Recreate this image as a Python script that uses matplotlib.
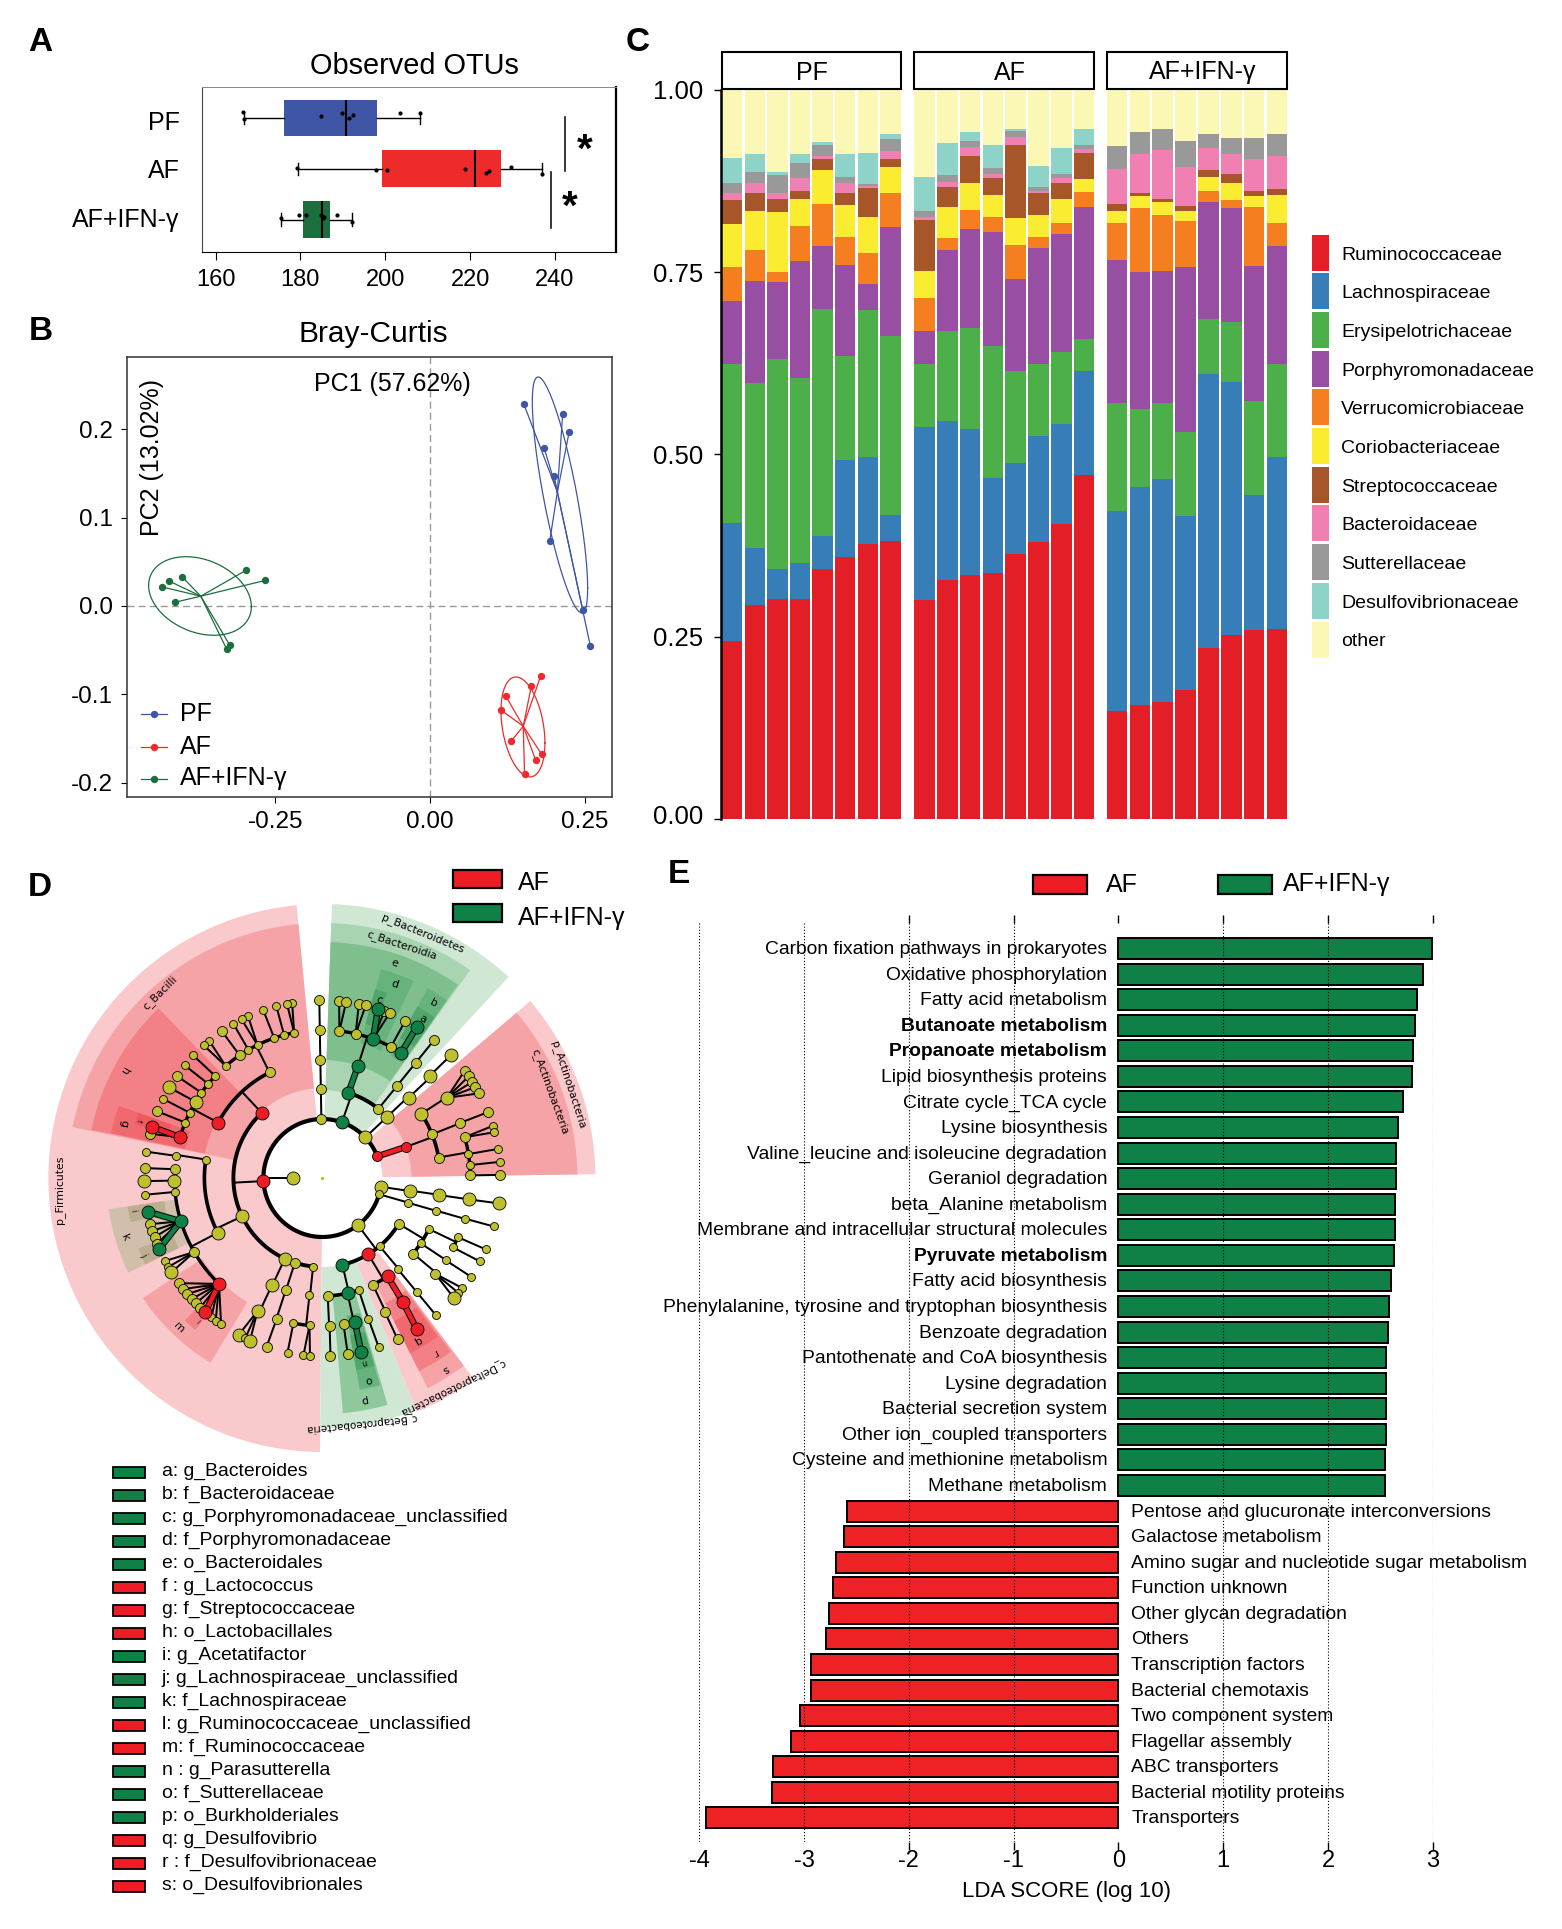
import numpy as np
import matplotlib
matplotlib.use('Agg')
import matplotlib.pyplot as plt
from matplotlib.patches import Wedge, Rectangle
from matplotlib.transforms import ScaledTranslation

plt.rcParams['font.family'] = ['Liberation Sans', 'DejaVu Sans']
plt.rcParams['axes.unicode_minus'] = False
W, H = 1562, 1929
PT = 72 / 100  # points per pixel at 100 dpi

# ---------- Panel A data ----------
otu_groups = ['PF', 'AF', 'AF+IFN-γ']
otu_whislo = [166.6, 179.5, 175.5]
otu_q1 = [176.1, 199.3, 180.5]
otu_med = [190.7, 221.2, 185.0]
otu_q3 = [198.0, 227.3, 187.0]
otu_whishi = [208.3, 237.0, 192.1]
otu_pts_pf = [166.4, 184.9, 189.8, 191.5, 192.5, 203.4, 208.3, 166.7]
otu_off_pf = [-.11, -.04, -.09, 0, -.05, -.10, -.10, .03]
otu_pts_af = [179.3, 197.9, 200.3, 218.7, 223.7, 224.5, 229.7, 237.0]
otu_off_af = [-.02, .03, .03, .01, .09, .05, -.04, .10]
otu_pts_ifn = [175.5, 179.7, 181.4, 184.9, 185.5, 185.4, 188.6, 192.1]
otu_off_ifn = [-.02, -.09, -.08, -.08, -.05, -.03, -.09, .05]
group_colors = ['#3F55A5', '#EE2A2B', '#1C6E3D']

# ---------- Panel B data ----------
pc_pf_x = [.1514, .2143, .2248, .1845, .2007, .1935, .2467, .2591]
pc_pf_y = [.229, .2174, .197, .1787, .1468, .0737, -.0043, -.0454]
pc_af_x = [.1786, .1637, .1222, .1144, .1306, .1806, .1708, .1527]
pc_af_y = [-.0797, -.0908, -.1018, -.1178, -.1534, -.1682, -.1749, -.1903]
pc_ifn_x = [-.2970, -.2665, -.4008, -.4216, -.4326, -.4112, -.3236, -.3287]
pc_ifn_y = [.0405, .0289, .0332, .0283, .0215, .0043, -.0442, -.0485]
pc_centres = [(.2058, .129), (.1507, -.1362), (-.3703, .0111)]
# ellipse: centre x, centre y, half-extent x, half-extent y, correlation
pc_ellipses = [(.21, .1257, .0447, .1336, -.79),
               (.1502, -.137, .0355, .0566, -.32),
               (-.3716, .0113, .083, .0445, -.27)]

# ---------- Panel C data (cumulative stacked proportion, 24 samples) ----------
families = ['Ruminococcaceae', 'Lachnospiraceae', 'Erysipelotrichaceae', 'Porphyromonadaceae',
            'Verrucomicrobiaceae', 'Coriobacteriaceae', 'Streptococcaceae', 'Bacteroidaceae',
            'Sutterellaceae', 'Desulfovibrionaceae', 'other']
family_colors = ['#E41E26', '#377EB8', '#4DAF4A', '#984EA3', '#F57F20', '#F9EC31',
                 '#A65628', '#F07FB2', '#999999', '#8DD3C7', '#FBF7B5']
cum_rumino = [.244, .293, .302, .302, .343, .359, .377, .381,
              .300, .328, .335, .338, .364, .380, .405, .472,
              .148, .157, .161, .177, .234, .252, .259, .260]
cum_lachno = [.406, .372, .343, .351, .388, .492, .497, .417,
              .538, .546, .535, .468, .489, .525, .542, .615,
              .422, .456, .467, .415, .610, .599, .444, .497]
cum_erysi = [.624, .598, .631, .605, .700, .635, .698, .662,
             .624, .669, .674, .649, .615, .624, .641, .658,
             .571, .562, .571, .531, .686, .682, .573, .624]
cum_porphy = [.711, .738, .737, .765, .786, .760, .734, .812,
              .670, .780, .809, .805, .741, .783, .802, .840,
              .767, .750, .752, .757, .846, .838, .759, .786]
cum_verruco = [.757, .780, .751, .814, .843, .799, .777, .859,
               .714, .797, .836, .826, .787, .798, .818, .860,
               .818, .838, .828, .820, .862, .849, .840, .818]
cum_corio = [.816, .834, .832, .850, .890, .842, .826, .895,
             .752, .840, .872, .856, .825, .829, .850, .878,
             .834, .854, .846, .834, .881, .872, .854, .856]
cum_strep = [.849, .859, .851, .861, .905, .859, .865, .905,
             .822, .867, .909, .879, .924, .859, .873, .913,
             .843, .859, .851, .841, .890, .885, .861, .864]
cum_bact = [.859, .872, .859, .879, .909, .872, .868, .917,
            .826, .874, .922, .885, .936, .861, .879, .919,
            .892, .912, .918, .894, .921, .912, .905, .910]
cum_sutter = [.872, .887, .884, .900, .924, .880, .871, .933,
              .834, .883, .930, .893, .944, .867, .885, .924,
              .923, .942, .947, .930, .939, .934, .934, .939]
cum_desulfo = [.907, .912, .888, .912, .929, .912, .914, .940,
               .880, .927, .942, .924, .947, .896, .920, .947,
               .923, .942, .947, .930, .939, .934, .934, .939]
cum_other = [1.0] * 24
facet_names = ['PF', 'AF', 'AF+IFN-γ']

# ---------- Panel E data ----------
lda_up_names = ['Carbon fixation pathways in prokaryotes', 'Oxidative phosphorylation', 'Fatty acid metabolism',
                'Butanoate metabolism', 'Propanoate metabolism', 'Lipid biosynthesis proteins',
                'Citrate cycle_TCA cycle', 'Lysine biosynthesis', 'Valine_leucine and isoleucine degradation',
                'Geraniol degradation', 'beta_Alanine metabolism', 'Membrane and intracellular structural molecules',
                'Pyruvate metabolism', 'Fatty acid biosynthesis', 'Phenylalanine, tyrosine and tryptophan biosynthesis',
                'Benzoate degradation', 'Pantothenate and CoA biosynthesis', 'Lysine degradation',
                'Bacterial secretion system', 'Other ion_coupled transporters', 'Cysteine and methionine metabolism',
                'Methane metabolism']
lda_up_vals = [2.99, 2.906, 2.85, 2.83, 2.816, 2.80, 2.715, 2.665, 2.648, 2.648, 2.642, 2.637, 2.631,
               2.60, 2.58, 2.575, 2.558, 2.558, 2.558, 2.558, 2.54, 2.54]
lda_bold = ['Butanoate metabolism', 'Propanoate metabolism', 'Pyruvate metabolism']
lda_dn_names = ['Pentose and glucuronate interconversions', 'Galactose metabolism',
                'Amino sugar and nucleotide sugar metabolism', 'Function unknown', 'Other glycan degradation',
                'Others', 'Transcription factors', 'Bacterial chemotaxis', 'Two component system',
                'Flagellar assembly', 'ABC transporters', 'Bacterial motility proteins', 'Transporters']
lda_dn_vals = [-2.592, -2.62, -2.70, -2.727, -2.766, -2.788, -2.93, -2.934, -3.035, -3.13, -3.293, -3.304, -3.938]

# ---------- Panel D data ----------
clade_keys = ['a: g_Bacteroides', 'b: f_Bacteroidaceae', 'c: g_Porphyromonadaceae_unclassified',
              'd: f_Porphyromonadaceae', 'e: o_Bacteroidales', 'f : g_Lactococcus', 'g: f_Streptococcaceae',
              'h: o_Lactobacillales', 'i: g_Acetatifactor', 'j: g_Lachnospiraceae_unclassified',
              'k: f_Lachnospiraceae', 'l: g_Ruminococcaceae_unclassified', 'm: f_Ruminococcaceae',
              'n : g_Parasutterella', 'o: f_Sutterellaceae', 'p: o_Burkholderiales', 'q: g_Desulfovibrio',
              'r : f_Desulfovibrionaceae', 's: o_Desulfovibrionales']
clade_key_group = ['g', 'g', 'g', 'g', 'g', 'r', 'r', 'r', 'g', 'g', 'g', 'r', 'r', 'g', 'g', 'g', 'r', 'r', 'r']
RED, GREEN, YEL = '#EE1C25', '#0F8046', '#BFC02E'
# sector: inner radius, outer radius, start angle, end angle, colour
clade_sectors = [
    (57, 274, 95.4, 269.5, '#F9C9CC'), (90, 255, 95.4, 168.5, '#F6A3A7'), (120, 236, 134, 168.2, '#F38085'),
    (140, 216, 160.5, 168, '#F0696F'), (160, 195, 160.5, 164, '#EE5A60'), (145, 216, 213.8, 238.8, '#F6A3A7'),
    (175, 198, 226, 230, '#F38085'), (148, 216, 188.3, 206, '#D1BFAB'), (160, 197, 188.3, 193, '#BDAE92'),
    (160, 197, 201, 206, '#BDAE92'),
    (60, 273, .8, 40.4, '#F9C9CC'), (89, 255, .8, 40.4, '#F6A3A7'),
    (58, 274, 47.2, 88, '#CFE7D3'), (88, 255, 54.6, 88, '#A9D4B1'), (118, 236, 55, 88, '#7FBF8E'),
    (140, 217, 65.2, 74.3, '#66B37D'), (160, 196, 70.8, 74.4, '#4FA76B'), (140, 217, 55, 61, '#66B37D'),
    (160, 196, 55, 61, '#4FA76B'),
    (89, 250, -90.5, -68, '#CFE7D3'), (120, 236, -85, -74, '#8FC89B'), (140, 215, -80, -74.5, '#66B37D'),
    (160, 195, -80, -74.5, '#4FA76B'),
    (92, 252, -68, -53, '#F9C9CC'), (120, 235, -63.4, -53, '#F6A3A7'), (140, 216, -63.4, -53.5, '#F38085'),
    (160, 196, -63.4, -54, '#F0696F'),
]
# label, figure x, figure y, rotation, size
clade_labels = [
    ('p_Bacteroidetes', 423, 933, -22, 7.8), ('c_Bacteroidia', 402, 945, -18, 7.8),
    ('e', 395, 963, -18, 7.8), ('d', 395, 984, -18, 7.8), ('c', 379, 1000, -18, 7.8), ('b', 434, 1003, -30, 7.8),
    ('a', 423, 1019, -30, 7.8),
    ('p_Actinobacteria', 568, 1085, -72, 7.8), ('c_Actinobacteria', 550, 1092, -70, 7.8),
    ('c_Bacilli', 160, 993, 45, 7.8), ('h', 124, 1070, 240, 7.8), ('g', 124, 1123, 260, 7.8), ('f', 139, 1121, 260, 5),
    ('p_Firmicutes', 60, 1190, 90, 7.8), ('k', 125, 1238, 295, 7.8), ('i', 133, 1211, 280, 6), ('j', 144, 1255, 300, 6),
    ('m', 179, 1328, 315, 7.8), ('l', 197, 1322, 315, 5),
    ('c_Betaproteobacteria', 361, 1423, 186, 7.5), ('c_Deltaproteobacteria', 453, 1387, 206, 7.5),
    ('s', 445, 1369, 210, 7.8), ('r', 435, 1353, 210, 7.8), ('q', 418, 1340, 210, 7.8),
    ('o', 369, 1380, 190, 7.8), ('p', 363, 1400, 190, 7.8), ('n', 364, 1362, 190, 6),
]


def N(a, s='m', c='y', *k):
    return (a, s, c, k)


def L(s, *angles):
    return tuple(N(a, s) for a in angles)


def chain(angles, s='m'):
    node = None
    for a in reversed(angles):
        node = N(a, s, 'y', *((node,) if node else ()))
    return node


clade_tree = N(180, 'l', 'y',
    N(21.5, 'm', 'r', N(20.4, 'm', 'r',
        N(33, 'l', 'y', N(32.8, 'l', 'y', *L('m', 37, 34.8, 32.7, 30.7, 28.4))),
        chain([21.7, 21.8, 21.7]),
        N(10, 'm', 'y', N(16, 'm', 'y', *L('s', 17, 14.9)), N(9.3, 's', 'y', N(9.4, 's')),
          N(5, 's', 'y', N(5.2, 's')), N(1, 'm', 'y', N(1, 'm'))))),
    chain([43.4, 43.4, 43, 43.6, 43.7], 'l'),
    N(70.7, 'l', 'g',
      N(73, 'l', 'g', N(72.4, 'l', 'g',
        N(83.4, 'm', 'y', *L('m', 84.6, 82.3)), N(77, 'm', 'y', *L('m', 78.2, 75.9)),
        N(70, 'l', 'g', N(71.8, 'l', 'g'), N(69.6, 'm'), N(67.8, 'm')),
        N(62.4, 'm', 'y', N(62.2, 'm')), N(57.8, 'l', 'g', N(58, 'l', 'g')))),
      chain([51, 51, 51, 51])),
    chain([91, 91, 91, 91, 91]),
    N(183, 'l', 'r',
      N(133, 'l', 'r',
        N(116.6, 'm', 'y', N(101, 's', 'y', *L('s', 99.8, 101.5)), N(105, 's', 'y', N(105, 's')),
          N(109, 's', 'y', N(109.4, 's')), N(116, 's', 'y', *L('s', 114.7, 117)), N(120, 's', 'y', N(120, 's')),
          N(124, 'm', 'y', N(124.4, 'm')), N(130.8, 's', 'y', *L('s', 129.5, 131.8))),
        N(152, 'l', 'r', N(136.4, 's', 'y', N(136.5, 's')), N(140.5, 's', 'y', N(140.7, 's')),
          N(144.8, 's', 'y', N(145, 'm')), N(149, 'l', 'y', N(149.4, 'l')), N(153.8, 's', 'y', N(153.6, 's')),
          N(158, 's', 'y', N(158, 'm')), N(164, 'l', 'r', N(163.3, 'l', 'r'), N(165.6, 'm')))),
      N(205.5, 'l', 'y',
        chain([171, 171.4, 171.5], 's'),
        N(207.6, 'l', 'y', N(176.6, 'm', 'y', N(176.8, 'm')), N(181, 'l', 'y', N(181, 'l')),
          N(185.4, 's', 'y', N(185.4, 's')),
          N(197, 'l', 'g', N(190.9, 'l', 'g'), *L('m', 195, 197.3, 199.4, 201.6), N(203.5, 'l', 'g')),
          N(210, 'm', 'y', N(207.8, 's'), N(210, 's'), N(212, 'l')),
          N(225.7, 'l', 'r', *L('m', 216.2, 218.6, 220.7, 222.8, 224.7, 226.7), N(228.9, 'l', 'r'),
            *L('s', 231.4, 233.2, 235.3)))),
      N(245, 'l', 'y', N(244.8, 'l', 'y', N(244, 'l', 'y', N(241.9, 'l'), N(244.3, 's'), N(246, 'l')))),
      chain([252, 251.9, 252, 251.7]),
      N(264, 's', 'y', N(263.7, 's', 'y', N(265, 's', 'y', *L('s', 263.9, 266)), N(258.7, 's', 'y', N(258.7, 's'))))),
    N(307, 'l', 'y',
      N(-77, 'l', 'g', chain([-87.4, -87.2, -87.4]),
        N(-77.7, 'l', 'g', N(-81.8, 'm', 'y', N(-81.8, 'm')), N(-77.3, 'l', 'g', N(-77.4, 'l', 'g'))),
        chain([-72, -71.9, -71.6], 's')),
      N(-59, 'l', 'r', N(-56.5, 'l', 'r', N(-57, 'l', 'r', N(-58, 'l', 'r'))), chain([-64.7, -65, -65])),
      chain([-50, -50.4, -50.4, -50.4], 's'),
      N(-31, 'm', 'y',
        N(-25.6, 's', 'y', N(-23.6, 's', 'y', N(-23.6, 's')), N(-28, 's', 'y', N(-27.9, 's'))),
        chain([-33.6, -33.7, -33.6], 's'),
        N(-39.8, 'm', 'y', N(-40.3, 'm', 'y', *L('s', -38.2, -40.2), N(-42.4, 'l'))))),
    chain([351.5, -8.2, -8.3, -8.3, -8.2], 'l'),
    chain([344, -16.1, -16, -15.9, -15.8], 's'),
)
level_radii = [29, 59, 89, 118, 148, 178]
level_lw = [0, 3.2, 3.0, 2.8, 2.6]
node_diam = {'s': 8, 'm': 10, 'l': 13}
node_col = {'y': YEL, 'r': RED, 'g': GREEN}

fig = plt.figure(figsize=(W / 100, H / 100), dpi=100)


def place(l, t, r, b):
    return fig.add_axes([l / W, 1 - b / H, (r - l) / W, (b - t) / H])


ov = fig.add_axes([0, 0, 1, 1], zorder=10)
ov.set_xlim(0, W)
ov.set_ylim(H, 0)
ov.axis('off')
ov.patch.set_visible(False)

for s, x, y in [('A', 28, 42.5), ('B', 29, 332), ('C', 626, 42.5), ('D', 28, 887.5), ('E', 668, 874.5)]:
    ov.text(x, y, s, fontsize=24, fontweight='bold', ha='left', va='center')

# ---------- A ----------
ax = place(202, 87, 616, 252)
stats = [dict(whislo=a, q1=b, med=c, q3=d, whishi=e, fliers=[])
         for a, b, c, d, e in zip(otu_whislo, otu_q1, otu_med, otu_q3, otu_whishi)]
bp = ax.bxp(stats, positions=[1, 2, 3], widths=.72, orientation='horizontal', patch_artist=True, showfliers=False,
            medianprops=dict(color='k', lw=1.5), whiskerprops=dict(color='k', lw=1.0),
            capprops=dict(color='k', lw=1.0), boxprops=dict(lw=0), capwidths=.24)
for patch, col in zip(bp['boxes'], group_colors):
    patch.set_facecolor(col)
    patch.set_edgecolor(col)
for i, (px, po) in enumerate([(otu_pts_pf, otu_off_pf), (otu_pts_af, otu_off_af), (otu_pts_ifn, otu_off_ifn)]):
    ax.scatter(px, np.array(po) + i + 1, s=9, c='k', zorder=5, lw=0)
ax.set_xlim(156.8, 254.4)
ax.set_ylim(3.64, .39)
ax.set_xticks([160, 180, 200, 220, 240])
ax.set_yticks([1, 2, 3], otu_groups, fontsize=18)
ax.tick_params(axis='y', length=0, pad=16)
ax.tick_params(axis='x', length=6, width=.8, labelsize=17, pad=6)
for lab, shift in zip(ax.get_yticklabels(), [-3, 0, 2]):
    lab.set_transform(lab.get_transform() + ScaledTranslation(0, shift * PT / 72, fig.dpi_scale_trans))
ax.spines['top'].set_color('#888888')
ax.spines['top'].set_linewidth(.7)
ax.spines['left'].set_color('#444444')
ax.spines['left'].set_linewidth(.8)
ax.spines['right'].set_linewidth(1.6)
ax.spines['bottom'].set_linewidth(.8)
ov.text(414, 66, 'Observed OTUs', fontsize=20.8, ha='center', va='center')
ov.plot([565, 565], [116.5, 171], color='k', lw=1.1)
ov.plot([551, 551], [172, 228], color='k', lw=1.1)
ov.text(585, 151, '*', fontsize=29, fontweight='bold', ha='center', va='center')
ov.text(570, 208, '*', fontsize=29, fontweight='bold', ha='center', va='center')

# ---------- B ----------
ax = place(127, 356.6, 611.6, 796.7)
ax.axhline(0, color='#999999', lw=1, ls=(0, (5, 3)))
ax.axvline(0, color='#999999', lw=1, ls=(0, (5, 3)))
t = np.linspace(0, 2 * np.pi, 200)
for (xs, ys), ctr, el, col in zip([(pc_pf_x, pc_pf_y), (pc_af_x, pc_af_y), (pc_ifn_x, pc_ifn_y)],
                                  pc_centres, pc_ellipses, group_colors):
    for x, y in zip(xs, ys):
        ax.plot([ctr[0], x], [ctr[1], y], color=col, lw=.9)
    ax.scatter(xs, ys, s=28, color=col, lw=0, zorder=4)
    cx, cy, hx, hy, rho = el
    ax.plot(cx + hx * np.cos(t), cy + hy * (rho * np.cos(t) + np.sqrt(1 - rho ** 2) * np.sin(t)), color=col, lw=.9)
ax.set_xlim(-.4895, .2934)
ax.set_ylim(-.216, .2824)
ax.set_xticks([-.25, 0, .25], ['-0.25', '0.00', '0.25'])
ax.set_yticks([-.2, -.1, 0, .1, .2], ['-0.2', '-0.1', '0.0', '0.1', '0.2'])
ax.tick_params(labelsize=17.5, length=4, width=.8, pad=6)
for sp in ax.spines.values():
    sp.set_linewidth(1.1)
    sp.set_color('#333333')
ov.text(373, 334.5, 'Bray-Curtis', fontsize=21.5, ha='center', va='center')
ov.text(392, 383.5, 'PC1 (57.62%)', fontsize=18, ha='center', va='center')
ov.text(152, 458, 'PC2 (13.02%)', fontsize=18, ha='center', va='center', rotation=90)
for y, name, col in zip([714, 746.5, 778.5], otu_groups, group_colors):
    ov.plot([140.6, 166.7], [y, y], color=col, lw=.9)
    ov.scatter([153.6], [y], s=28, color=col, lw=0)
    ov.text(179.5, y, name, fontsize=18, ha='left', va='center')

# ---------- C ----------
cums = [cum_rumino, cum_lachno, cum_erysi, cum_porphy, cum_verruco, cum_corio, cum_strep, cum_bact,
        cum_sutter, cum_desulfo, cum_other]
facet_px = [(722, 900.7), (914.3, 1094.3), (1106.7, 1287.3)]
for f, (l, r) in enumerate(facet_px):
    ax = place(l, 90, r, 819)
    bottom = np.zeros(8)
    xs = np.arange(1, 9)
    for cum, col in zip(cums, family_colors):
        top = np.array(cum[f * 8:f * 8 + 8])
        ax.bar(xs, top - bottom, bottom=bottom, width=.9, color=col, lw=0)
        bottom = top
    ax.set_xlim(.55, 8.45)
    ax.set_ylim(0, 1)
    ax.set_xticks([])
    for sp in ax.spines.values():
        sp.set_visible(False)
    if f == 0:
        ax.spines['left'].set_visible(True)
        ax.spines['left'].set_linewidth(1.8)
        ax.spines['left'].set_position(('outward', 1))
        ax.set_yticks([0, .25, .5, .75, 1], ['0.00', '0.25', '0.50', '0.75', '1.00'])
        ax.tick_params(axis='y', labelsize=18.5, length=5, width=1, pad=7.5)
        zero_label = ax.get_yticklabels()[0]
        zero_label.set_transform(zero_label.get_transform() + ScaledTranslation(0, 3.5 / 72, fig.dpi_scale_trans))
    else:
        ax.set_yticks([])
    ov.add_patch(Rectangle((l, 52), r - l, 37, fc='w', ec='k', lw=1.5))
    ov.text((l + r) / 2 + (1 if f == 0 else 6 if f == 1 else 6), 72.5, facet_names[f], fontsize=18, ha='center', va='center')
for i, (name, col) in enumerate(zip(families, family_colors)):
    y = 252.5 + i * 38.7
    ov.add_patch(Rectangle((1312, y - 18), 17, 36, fc=col, ec='none'))
    ov.text(1341, y + 2.5, name, fontsize=14, ha='left', va='center')

# ---------- D ----------
cx0, cy0 = 322.4, 1178
for r1, r2, a1, a2, col in clade_sectors:
    ov.add_patch(Wedge((cx0, cy0), r2, -a2, -a1, width=r2 - r1, fc=col, ec='none', zorder=1))


def pol(r, a):
    return cx0 + r * np.cos(np.radians(a)), cy0 - r * np.sin(np.radians(a))


def draw_clade(node, depth):
    a, s, c, kids = node
    rp = level_radii[depth]
    x, y = pol(rp, a)
    if kids:
        rc = level_radii[depth + 1]
        adj = [((k[0] - a + 180) % 360) - 180 + a for k in kids]
        if depth + 1 < 5:
            lo, hi = min(adj + [a]), max(adj + [a])
            if depth == 0:
                lo, hi = min(adj), max(adj)
            if hi > lo:
                th = np.radians(np.linspace(lo, hi, 120))
                ov.plot(cx0 + rc * np.cos(th), cy0 - rc * np.sin(th), color='k', lw=level_lw[depth + 1] * PT * 1.3,
                        zorder=3, solid_capstyle='round')
            ex, ey = pol(rc, a)
            if not (len(kids) == 1 and kids[0][2] == c and c != 'y'):
                ov.plot([x, ex], [y, ey], color='k', lw=2 * PT, zorder=3)
        for k, ak in zip(kids, adj):
            kx, ky = pol(rc, ak)
            colored = k[2] == c and c != 'y' and (len(kids) == 1 or depth + 1 == 5)
            if colored:
                ov.plot([x, kx], [y, ky], color='k', lw=6.5 * PT, zorder=3.1, solid_capstyle='butt')
                ov.plot([x, kx], [y, ky], color=node_col[c], lw=4.5 * PT, zorder=3.2, solid_capstyle='butt')
            elif depth + 1 == 5:
                ov.plot([x, kx], [y, ky], color='k', lw=2 * PT, zorder=3)
            draw_clade(k, depth + 1)
    d = node_diam[s] * PT
    ov.scatter([x], [y], s=d ** 2, c=node_col[c], edgecolors='k', linewidths=.6, zorder=5 if c != 'y' else 4)


draw_clade(clade_tree, 0)
ov.scatter([cx0], [cy0], s=6, c=YEL, lw=0, zorder=4)
for s, x, y, rot, fs in clade_labels:
    ov.text(x, y, s, fontsize=fs, family='DejaVu Sans', rotation=rot, rotation_mode='anchor', ha='center', va='center', zorder=6)
for y, name, col in [(870, 'AF', RED), (904, 'AF+IFN-γ', GREEN)]:
    ov.add_patch(Rectangle((453, y), 49, 18, fc=col, ec='k', lw=1.6))
    ov.text(518, y + 13.5, name, fontsize=18, ha='left', va='center')
for i, (name, grp) in enumerate(zip(clade_keys, clade_key_group)):
    y = 1472.3 + i * 23.02
    ov.add_patch(Rectangle((112.5, y - 5.5), 32, 11, fc=RED if grp == 'r' else GREEN, ec='k', lw=1.3))
    ov.text(161.7, y - 1, name, fontsize=13.95, ha='left', va='center')

# ---------- E ----------
ax = place(699.4, 923, 1432.7, 1842)
ax.set_xlim(-4, 3)
ax.set_ylim(34.94, -.997)
nup = len(lda_up_vals)
ax.barh(np.arange(nup), lda_up_vals, height=.82, color=GREEN, edgecolor='k', lw=1.4, zorder=2)
ax.barh(np.arange(nup, nup + len(lda_dn_vals)), lda_dn_vals, height=.82, color='#EE2225', edgecolor='k', lw=1.4, zorder=2)
ax.vlines([-4, -3, -2, -1, 1, 2, 3], -.997, 34.94, color='k', lw=.8, ls=(0, (1, 1.8)), zorder=4)
ax.set_xticks([-4, -3, -2, -1, 0, 1, 2, 3])
ax.set_yticks([])
ax.tick_params(axis='x', top=True, length=6, width=1, labelsize=17, pad=0)
for tick in ax.xaxis.get_major_ticks()[:2]:
    tick.tick1line.set_visible(False)
    tick.tick2line.set_visible(False)
for sp in ax.spines.values():
    sp.set_visible(False)
for i, name in enumerate(lda_up_names):
    ax.text(-.107, i + .04, name, fontsize=13.85, ha='right', va='center', zorder=5,
            fontweight='bold' if name in lda_bold else 'normal', clip_on=False)
for i, name in enumerate(lda_dn_names):
    ax.text(.123, i + nup + .04, name, fontsize=13.85, ha='left', va='center', zorder=5, clip_on=False)
ov.text(1066, 1892, 'LDA SCORE (log 10)', fontsize=16, ha='center', va='center')
for x, xt, name, col in [(1033, 1106, 'AF', RED), (1218, 1283, 'AF+IFN-γ', GREEN)]:
    ov.add_patch(Rectangle((x, 875), 54, 19, fc=col, ec='k', lw=1.6))
    ov.text(xt, 884.5, name, fontsize=18, ha='left', va='center')

fig.savefig('out.png', dpi=100)
